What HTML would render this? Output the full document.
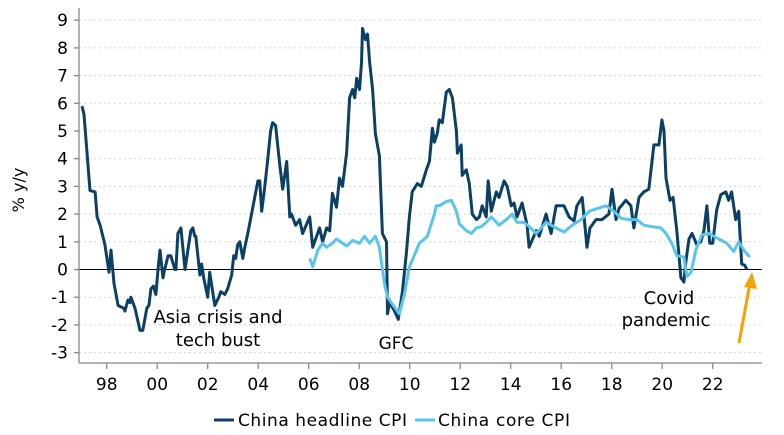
<!DOCTYPE html>
<html><head><meta charset="utf-8"><style>
html,body{margin:0;padding:0;background:#fff;}
svg{display:block;font-family:"DejaVu Sans","Liberation Sans",sans-serif;}
</style></head><body>
<svg id="chart" width="784" height="435" viewBox="0 0 784 435" xmlns="http://www.w3.org/2000/svg">
<g id="grid"></g>
<g id="yaxis"></g>
<g id="xaxis"></g>
<g id="series"></g>
<text transform="translate(24,190) rotate(-90)" text-anchor="middle" font-size="16" fill="#000">% y/y</text>
<g font-size="18" fill="#000" text-anchor="middle">
<text x="218" y="323" textLength="129">Asia crisis and</text><text x="218" y="346">tech bust</text></g>
<text x="396" y="349" font-size="17" text-anchor="middle">GFC</text>
<g font-size="18" text-anchor="middle">
<text x="669" y="304">Covid</text><text x="666" y="326">pandemic</text></g>
<g>
<line x1="739" y1="343" x2="750" y2="283" stroke="#f5a300" stroke-width="3"/>
<polygon points="752,272 744,287 757,289" fill="#f5a300"/></g>
<g>
<g>
<line x1="214" y1="420" x2="234" y2="420" stroke="#0b3f63" stroke-width="3"/>
<text x="238" y="426" font-size="17" textLength="169">China headline CPI</text></g>
<g>
<line x1="415" y1="420" x2="435" y2="420" stroke="#5ac4eb" stroke-width="3"/>
<text x="438" y="426" font-size="17" textLength="132">China core CPI</text></g>
</g>
</svg>
<script>
const yTicks = [-3,-2,-1,0,1,2,3,4,5,6,7,8,9];
const xTickYears = [1998,2000,2002,2004,2006,2008,2010,2012,2014,2016,2018,2020,2022];
const xTickLabels = ["98","00","02","04","06","08","10","12","14","16","18","20","22"];
const headlineT = [1997.02,1997.10,1997.34,1997.54,1997.62,1997.74,1997.93,1998.09,1998.17,1998.29,1998.45,1998.68,1998.72,1998.84,1998.92,1998.96,1999.12,1999.32,1999.43,1999.59,1999.67,1999.75,1999.85,1999.95,2000.03,2000.11,2000.23,2000.27,2000.43,2000.54,2000.70,2000.74,2000.82,2000.94,2001.10,2001.33,2001.41,2001.49,2001.53,2001.69,2001.76,2001.84,2002.00,2002.08,2002.28,2002.44,2002.52,2002.68,2002.79,2002.95,2003.03,2003.11,2003.19,2003.27,2003.39,2003.47,2003.59,2003.86,2003.99,2004.06,2004.14,2004.26,2004.38,2004.49,2004.57,2004.69,2004.85,2004.97,2005.13,2005.25,2005.32,2005.48,2005.64,2005.76,2006.04,2006.16,2006.43,2006.55,2006.71,2006.83,2006.94,2007.10,2007.22,2007.34,2007.50,2007.62,2007.74,2007.82,2007.90,2008.01,2008.09,2008.13,2008.25,2008.33,2008.41,2008.53,2008.64,2008.80,2008.92,2009.08,2009.12,2009.20,2009.40,2009.55,2009.71,2009.87,2009.99,2010.10,2010.30,2010.46,2010.66,2010.78,2010.90,2010.98,2011.09,2011.17,2011.29,2011.45,2011.57,2011.69,2011.85,2011.89,2012.04,2012.08,2012.24,2012.36,2012.48,2012.64,2012.76,2012.87,2013.03,2013.11,2013.23,2013.43,2013.54,2013.74,2013.86,2014.02,2014.13,2014.25,2014.45,2014.65,2014.73,2015.01,2015.13,2015.40,2015.60,2015.80,2016.11,2016.31,2016.51,2016.62,2016.83,2017.02,2017.14,2017.38,2017.62,2017.89,2018.01,2018.17,2018.29,2018.56,2018.76,2018.88,2019.08,2019.27,2019.47,2019.67,2019.87,2019.99,2020.07,2020.15,2020.31,2020.43,2020.58,2020.74,2020.86,2020.94,2021.06,2021.18,2021.37,2021.53,2021.65,2021.77,2021.88,2022.00,2022.16,2022.32,2022.52,2022.63,2022.75,2022.91,2023.03,2023.15,2023.27,2023.35,2023.50];
const headlineV = [5.9,5.6,2.85,2.8,1.9,1.6,0.9,-0.1,0.7,-0.5,-1.3,-1.4,-1.5,-1.1,-1.2,-1.0,-1.4,-2.2,-2.2,-1.4,-1.3,-0.7,-0.6,-0.9,0.0,0.7,-0.3,-0.1,0.5,0.5,0.0,0.0,1.3,1.5,0.0,1.4,1.5,1.2,1.2,-0.2,0.2,-0.3,-1.0,-0.1,-1.3,-1.0,-0.8,-0.9,-0.7,-0.2,0.5,0.4,0.9,1.0,0.4,0.8,1.3,2.6,3.2,3.2,2.1,3.0,4.0,5.0,5.3,5.2,3.8,2.9,3.9,1.9,2.0,1.6,1.8,1.3,1.9,0.8,1.5,1.0,1.5,1.4,2.75,2.25,3.3,3.0,4.2,6.2,6.5,6.2,6.9,6.5,7.45,8.7,8.3,8.5,7.5,6.5,4.9,4.1,1.3,1.0,-1.6,-1.2,-1.5,-1.8,-0.8,0.6,1.9,2.8,3.1,3.0,3.6,3.9,5.1,4.6,4.9,5.4,5.3,6.4,6.5,6.2,5.0,4.2,4.5,3.4,3.6,3.1,2.0,1.8,1.9,2.3,1.9,3.2,2.1,2.8,2.6,3.2,3.0,2.3,2.4,1.9,2.4,1.6,0.8,1.4,1.2,2.0,1.3,2.3,2.3,1.9,1.75,2.3,2.6,0.8,1.5,1.8,1.8,2.0,2.9,1.8,2.2,2.5,2.3,1.5,2.6,2.8,2.9,4.5,4.5,5.4,5.0,3.3,2.5,2.6,1.4,-0.3,-0.45,0.3,1.1,1.3,0.9,1.0,1.4,2.3,0.95,0.95,2.15,2.7,2.8,2.5,2.8,1.8,2.1,0.2,0.15,0.0];
const coreT = [2006.04,2006.16,2006.36,2006.55,2006.71,2006.94,2007.10,2007.50,2007.74,2008.01,2008.21,2008.41,2008.64,2008.80,2009.00,2009.12,2009.59,2009.79,2009.99,2010.18,2010.38,2010.58,2010.70,2010.98,2011.05,2011.17,2011.45,2011.65,2011.85,2011.97,2012.24,2012.44,2012.64,2012.84,2013.03,2013.23,2013.54,2013.82,2014.06,2014.25,2014.53,2014.73,2015.01,2015.40,2015.80,2016.11,2016.43,2016.79,2017.10,2017.42,2017.77,2018.09,2018.37,2018.68,2019.00,2019.27,2019.59,2019.95,2020.15,2020.38,2020.58,2020.86,2020.98,2021.14,2021.33,2021.57,2021.85,2022.24,2022.56,2022.83,2023.03,2023.23,2023.47];
const coreV = [0.4,0.1,0.7,0.95,0.8,0.95,1.1,0.85,1.05,0.95,1.2,0.95,1.2,0.8,-0.5,-1.0,-1.6,-0.9,0.1,0.5,0.95,1.1,1.2,2.0,2.3,2.3,2.45,2.5,2.1,1.65,1.4,1.3,1.5,1.55,1.7,1.9,1.6,1.8,2.0,1.7,1.7,1.55,1.3,1.7,1.5,1.35,1.6,1.8,2.1,2.2,2.3,2.1,1.85,1.8,1.8,1.6,1.55,1.5,1.3,0.95,0.5,0.45,-0.25,-0.1,0.7,1.25,1.3,1.1,0.95,0.65,1.0,0.7,0.45];

const NS = "http://www.w3.org/2000/svg";
const X0 = 106.7, XPER = 25.25, Y0 = 269.5, YPER = 27.7;
function xScale(t){ return X0 + (t - 1998) * XPER; }
function yScale(v){ return Y0 - v * YPER; }
function mk(tag, attrs, parent){ const e = document.createElementNS(NS, tag); for (const k in attrs) e.setAttribute(k, attrs[k]); parent.appendChild(e); return e; }

const grid = document.getElementById('grid');
const yax = document.getElementById('yaxis');
const xax = document.getElementById('xaxis');
const ser = document.getElementById('series');
const AXL = 79, AXR = 762, AXB = 363;

yTicks.forEach(v => {
  const y = yScale(v);
  if (v !== 0) {
    const g = mk('line', {x1:AXL, x2:AXR, y1:y, y2:y, stroke:'#c9d6dd', 'stroke-width':1, 'stroke-dasharray':'2,3'}, grid);
    
    
  }
  const tk = mk('line', {x1:74, x2:AXL, y1:y, y2:y, stroke:'#888', 'stroke-width':1.3}, yax);
  
  
  const lb = mk('text', {x:68, y:y+6, 'text-anchor':'end', 'font-size':17, fill:'#000'}, yax);
  lb.textContent = v;
  
  
});
const zl = mk('line', {x1:AXL, x2:AXR, y1:yScale(0), y2:yScale(0), stroke:'#000', 'stroke-width':1}, grid);


const yl = mk('line', {x1:AXL, x2:AXL, y1:8, y2:AXB, stroke:'#888', 'stroke-width':1.3}, yax);


const xl = mk('line', {x1:AXL, x2:AXR, y1:AXB, y2:AXB, stroke:'#888', 'stroke-width':1.3}, xax);


xTickYears.forEach((yr, i) => {
  const x = xScale(yr);
  const tk = mk('line', {x1:x, x2:x, y1:AXB, y2:AXB+6, stroke:'#888', 'stroke-width':1.3}, xax);
  
  
  const lb = mk('text', {x:x, y:390, 'text-anchor':'middle', 'font-size':17, fill:'#000'}, xax);
  lb.textContent = xTickLabels[i];
  
  
});
function path(ts, vs){ return ts.map((t,i)=>(i?'L':'M')+xScale(t).toFixed(1)+','+yScale(vs[i]).toFixed(1)).join(''); }
const headline = mk('path', {d:path(headlineT, headlineV), fill:'none', stroke:'#0b3f63', 'stroke-width':3, 'stroke-linejoin':'round'}, ser);


const core = mk('path', {d:path(coreT, coreV), fill:'none', stroke:'#5ac4eb', 'stroke-width':3, 'stroke-linejoin':'round'}, ser);


</script>
</body></html>
